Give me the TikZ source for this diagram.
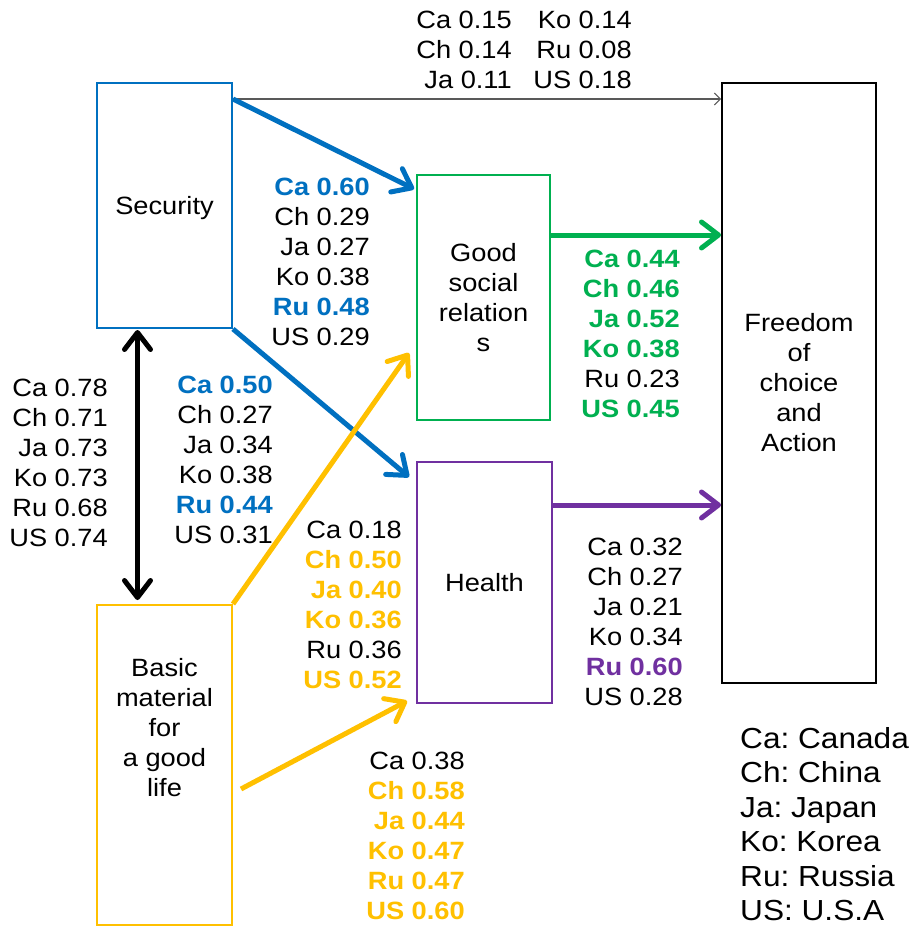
\documentclass[tikz,border=0pt]{standalone}
\usepackage{fontspec}
\setmainfont{Liberation Sans}[FakeStretch=1.09]
\usetikzlibrary{arrows.meta}
\definecolor{cblue}{HTML}{0070C0}
\definecolor{cgreen}{HTML}{00B050}
\definecolor{cpurple}{HTML}{7030A0}
\definecolor{cyellow}{HTML}{FFC000}
\definecolor{cgray}{HTML}{595959}
\newcommand{\bb}[1]{\textcolor{cblue}{\textbf{#1}}}
\newcommand{\bg}[1]{\textcolor{cgreen}{\textbf{#1}}}
\newcommand{\bp}[1]{\textcolor{cpurple}{\textbf{#1}}}
\newcommand{\by}[1]{\textcolor{cyellow}{\textbf{#1}}}
\frenchspacing
\begin{document}
\begin{tikzpicture}[x=1pt,y=-1pt,
  boxnode/.style={draw, line width=2pt, inner sep=0pt, align=center,
    font=\fontsize{25}{30}\selectfont},
  lbl/.style={font=\fontsize{25}{30}\selectfont, align=right, anchor=east, inner sep=0pt},
  thickarrow/.style={line width=5pt, -{Straight Barb[length=17pt,width=26pt,round]}},
  thinarrow/.style={line width=1.1pt, cgray, -{Straight Barb[length=6pt,width=12pt,line width=1pt]}}
]
\useasboundingbox[fill=white] (0,0) rectangle (913,926);

% boxes
\node[boxnode, draw=cblue, minimum width=135pt, minimum height=245pt] (sec) at (164.5,205.5) {};
\node[font=\fontsize{25}{30}\selectfont] (sect) at (164.5,208) {Security};
\node[boxnode, draw=cgreen, minimum width=133pt, minimum height=245pt] (gsr) at (483.5,297.5)
  {Good\\social\\relation\\s};
\node[boxnode, draw=cpurple, minimum width=135pt, minimum height=241pt] (hl) at (484.5,582.5) {Health};
\node[boxnode, draw=cyellow, minimum width=135pt, minimum height=320pt] (bm) at (164.5,765) {};
\node[font=\fontsize{25}{30}\selectfont, align=center] (bmt) at (164.5,728) {Basic\\material\\for\\a good\\life};
\node[boxnode, draw=black, minimum width=154pt, minimum height=600pt] (fr) at (799,383)
  {Freedom\\of\\choice\\and\\Action};

% connectors
\draw[thinarrow] ([yshift=-17pt]sec.north east) -- ([yshift=-17pt]sec.north east -| fr.west);
\draw[thickarrow, cblue] ([yshift=-17pt]sec.north east) -- ([xshift=-2pt,yshift=-15pt]gsr.north west);
\draw[thickarrow, cblue] (sec.south east) -- ([xshift=-7pt,yshift=-16pt]hl.north west);
\draw[thickarrow, cgreen] ([yshift=-61pt]gsr.north east) -- ([yshift=-61pt]gsr.north east -| fr.west);
\draw[thickarrow, cpurple] ([yshift=-44pt]hl.north east) -- ([yshift=-44pt]hl.north east -| fr.west);
\draw[thickarrow, cyellow] (bm.north east) -- ([xshift=-7pt,yshift=68pt]gsr.south west);
\draw[thickarrow, cyellow] ([xshift=8pt,yshift=-185pt]bm.north east) -- ([xshift=-9pt,yshift=3pt]hl.south west);
\draw[line width=5pt, {Straight Barb[length=17pt,width=26pt,round]}-{Straight Barb[length=17pt,width=26pt,round]}]
  ([xshift=-27pt,yshift=-1pt]sec.south) -- ([xshift=-27pt,yshift=4pt]bm.north);

% labels
\node[lbl] at (512,49.5) {Ca 0.15\\Ch 0.14\\Ja 0.11};
\node[lbl] at (632,49.5) {Ko 0.14\\Ru 0.08\\US 0.18};
\node[lbl] at (370,262) {\bb{Ca 0.60}\\Ch 0.29\\Ja 0.27\\Ko 0.38\\\bb{Ru 0.48}\\US 0.29};
\node[lbl] at (108,463) {Ca 0.78\\Ch 0.71\\Ja 0.73\\Ko 0.73\\Ru 0.68\\US 0.74};
\node[lbl] at (273,460) {\bb{Ca 0.50}\\Ch 0.27\\Ja 0.34\\Ko 0.38\\\bb{Ru 0.44}\\US 0.31};
\node[lbl] at (680,334) {\bg{Ca 0.44}\\\bg{Ch 0.46}\\\bg{Ja 0.52}\\\bg{Ko 0.38}\\Ru 0.23\\\bg{US 0.45}};
\node[lbl] at (402,605) {Ca 0.18\\\by{Ch 0.50}\\\by{Ja 0.40}\\\by{Ko 0.36}\\Ru 0.36\\\by{US 0.52}};
\node[lbl] at (683,622) {Ca 0.32\\Ch 0.27\\Ja 0.21\\Ko 0.34\\\bp{Ru 0.60}\\US 0.28};
\node[lbl] at (465,836) {Ca 0.38\\\by{Ch 0.58}\\\by{Ja 0.44}\\\by{Ko 0.47}\\\by{Ru 0.47}\\\by{US 0.60}};
\node[font=\fontsize{29}{34.5}\selectfont, align=left, anchor=west, inner sep=0pt] (leg) at (740,824)
  {Ca: Canada\\Ch: China\\Ja: Japan\\Ko: Korea\\Ru: Russia\\US: U.S.A};
\end{tikzpicture}
\end{document}
